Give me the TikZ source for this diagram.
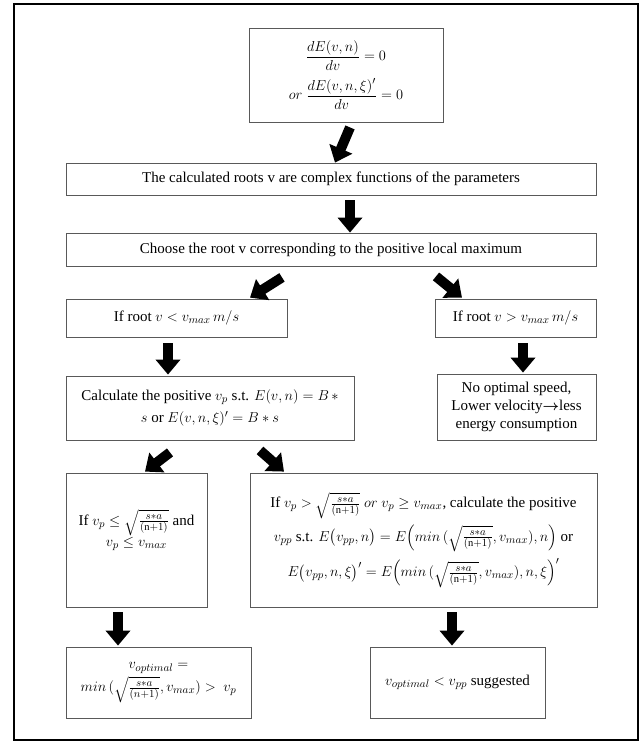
\documentclass[tikz,border=0pt]{standalone}
\usepackage{amsmath}
\usepackage{fontspec}
\setmainfont{Liberation Serif}
\usetikzlibrary{arrows.meta}
\tikzset{
  box/.style={draw=black!65, line width=0.8pt, fill=white, align=center, inner sep=2pt, font=\fontsize{15}{18}\selectfont},
  fat/.style={line width=10pt, -{Triangle[length=15pt,width=24pt]}, black},
  frame/.style={draw=black, line width=2.5pt}
}
\newcommand{\sq}{\sqrt{\tfrac{s*a}{(\mathrm{n}+1)}}}
\begin{document}
\begin{tikzpicture}[x=1pt,y=-1pt]
\useasboundingbox (0,0) rectangle (641,748);
\fill[white] (0,0) rectangle (641,748);
\draw[frame] (14,4) rectangle (638,740);

\node[box, minimum width=194pt, minimum height=94pt, font=\fontsize{15.5}{19}\selectfont] (b1) at (346,75)
  {$\dfrac{dE(v,n)}{dv}=0$\\[7pt] $or\ \dfrac{dE(v,n,\xi)'}{dv}=0$};
\node[box, minimum width=530pt, minimum height=32pt] (b2) at (331,179)
  {The calculated roots v are complex functions of the parameters};
\node[box, minimum width=530pt, minimum height=33pt] (b3) at (331,249.5)
  {Choose the root v corresponding to the positive local maximum};
\node[box, minimum width=221pt, minimum height=38pt] (b4) at (176.5,318)
  {If root $v < v_{max}\, m/s$};
\node[box, minimum width=161pt, minimum height=38pt] (b5) at (515.5,318)
  {If root $v > v_{max}\, m/s$};
\node[box, minimum width=288pt, minimum height=64pt] (b6) at (210,408)
  {Calculate the positive $v_p$ s.t. $E(v,n) = B\,*$\\[4pt] $s$ or $E(v,n,\xi)' = B*s$};
\node[box, minimum width=159pt, minimum height=66pt] (b7) at (516.5,407)
  {No optimal speed,\\ Lower velocity$\boldsymbol{\rightarrow}$less\\ energy consumption};
\node[box, minimum width=141pt, minimum height=134pt] (b8) at (136.5,540)
  {If $v_p \le \sq$ and\\ $v_p \le v_{max}$\\[6pt]};
\node[box, minimum width=347pt, minimum height=134pt] (b9) at (423.5,540)
  {If $v_p > \sq$ $or$ $v_p \ge v_{max}$, calculate the positive\\[5pt]
   $v_{pp}$ s.t. $E\bigl(v_{pp},n\bigr) = E\Bigl(min\,(\sq, v_{max}), n\Bigr)$ or\\[5pt]
   $E\bigl(v_{pp},n,\xi\bigr)' = E\Bigl(min\,(\sq, v_{max}), n, \xi\Bigr)'$};
\node[box, minimum width=185pt, minimum height=71pt] (b10) at (158.5,682.5)
  {$v_{optimal} =$\\[2pt] $min\,(\sqrt{\tfrac{s*a}{(n+1)}}, v_{max}) >\ v_p$};
\node[box, minimum width=175pt, minimum height=71pt] (b11) at (457.5,682.5)
  {$v_{optimal} < v_{pp}$ suggested};

\draw[fat] ([xshift=4pt,yshift=-5pt]b1.south) -- ([xshift=4pt]b2.north);
\draw[fat] ([xshift=19pt,yshift=-5pt]b2.south) -- ([xshift=19pt]b3.north);
\draw[fat] ([xshift=-49pt,yshift=-11pt]b3.south) -- ([xshift=73.5pt,yshift=1pt]b4.north);
\draw[fat] ([xshift=105pt,yshift=-10pt]b3.south) -- ([xshift=-53.5pt,yshift=1pt]b5.north);
\draw[fat] ([xshift=-8.5pt,yshift=-6pt]b4.south) -- ([xshift=-42pt,yshift=1pt]b6.north);
\draw[fat] ([xshift=7.5pt,yshift=-6pt]b5.south) -- ([xshift=6.5pt,yshift=1pt]b7.north);
\draw[fat] ([xshift=-40pt,yshift=-12pt]b6.south) -- ([xshift=8.5pt,yshift=1pt]b8.north);
\draw[fat] ([xshift=50pt,yshift=-10pt]b6.south) -- ([xshift=-139.5pt,yshift=1pt]b9.north);
\draw[fat] ([xshift=-18.5pt,yshift=-5pt]b8.south) -- ([xshift=-40.5pt,yshift=1pt]b10.north);
\draw[fat] ([xshift=28.5pt,yshift=-5pt]b9.south) -- ([xshift=-5.5pt,yshift=1pt]b11.north);
\end{tikzpicture}
\end{document}
